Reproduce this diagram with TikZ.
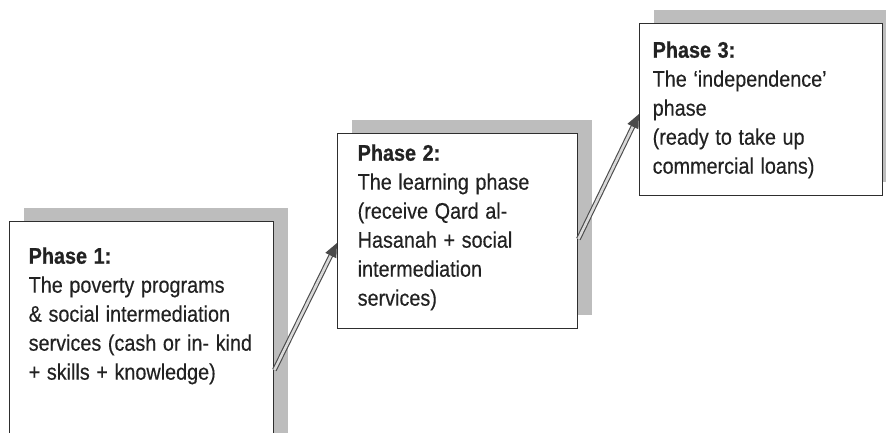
\documentclass[tikz,border=0pt]{standalone}
\usepackage{fontspec}
\setmainfont{Liberation Sans}[
    UprightFeatures={FakeBold=0.35}, BoldFeatures={FakeBold=0.8}]
\usepackage{graphicx}
\usetikzlibrary{calc,shadows,arrows.meta}
\definecolor{boxline}{HTML}{2E2E2E}
\definecolor{inkgray}{HTML}{222222}
\definecolor{shadowgray}{HTML}{BDBDBD}
\definecolor{linkgray}{HTML}{4A4A4A}
% condensed lines, set in a tabular squeezed sideways
\newcommand{\narrowtext}[1]{\scalebox{0.88}[1]{\begin{tabular}[t]{@{}l@{}}#1\end{tabular}}}
\tikzset{
    phase/.style={
        draw=boxline, line width=1.4pt, fill=white,
        rectangle, anchor=north west, align=left,
        text=inkgray, text height=16pt,
        font=\fontsize{22.5pt}{29pt}\selectfont,
        drop shadow={shadow xshift=14pt, shadow yshift=14pt,
            fill=shadowgray, opacity=1}
    },
    link/.style={
        draw=linkgray, double=white!85!black, double distance=2.6pt,
        line width=1.1pt, -{Triangle[length=14pt,width=12pt]}
    }
}
\begin{document}
\begin{tikzpicture}[x=1pt,y=-1pt]

	\clip (0,0) rectangle (886,433);

	\node[phase, inner xsep=19pt, inner ysep=26pt, text width=226pt, text depth=162pt]
	    (ph1) at (9,221) {\narrowtext{\textbf{Phase 1:}\\The poverty programs\\\& social intermediation\\services (cash or in- kind\\+ skills + knowledge)}};
	\node[phase, inner xsep=20pt, inner ysep=11pt, text width=200pt, text depth=157pt]
	    (ph2) at (337,133) {\narrowtext{\textbf{Phase 2:}\\The learning phase\\(receive Qard al-\\Hasanah + social\\intermediation\\services)}};
	\node[phase, inner xsep=13pt, inner ysep=18pt, text width=217pt, text depth=120pt]
	    (ph3) at (639,23) {\narrowtext{\textbf{Phase 3:}\\The `independence'\\phase\\(ready to take up\\commercial loans)}};

	\draw[link] let \p1 = (ph1.north east), \p2 = (ph2.north west) in (\x1,\y1-149pt) -- (\x2,\y2-110pt);
	\draw[link] let \p1 = (ph2.north east), \p2 = (ph3.north west) in (\x1,\y1-106pt) -- (\x2,\y2-91pt);
\end{tikzpicture}
\end{document}
